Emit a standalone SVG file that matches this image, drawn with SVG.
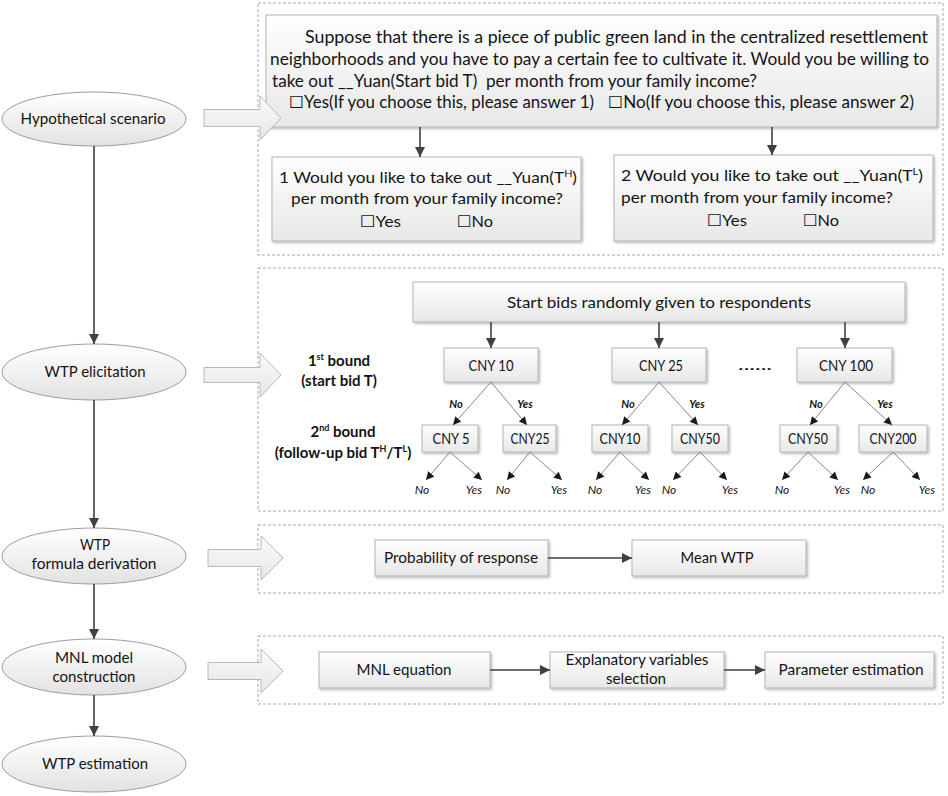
<svg xmlns="http://www.w3.org/2000/svg" width="948" height="796" viewBox="0 0 948 796">
<style>
.t{font-family:Lato,"Liberation Sans","DejaVu Sans",sans-serif;fill:#141414;}
.q{font-size:16.5px;}
.a{font-size:16px;}
.e{font-size:15px;text-anchor:middle;}
.c{font-size:15px;text-anchor:middle;}
.b{font-size:15px;font-weight:bold;text-anchor:middle;}
.lb{font-size:11px;font-weight:bold;font-style:italic;text-anchor:middle;}
.lf{font-size:12px;font-style:italic;text-anchor:middle;}
.box{fill:url(#gb);stroke:#b3b3b3;stroke-width:1;filter:url(#sh);}
.ell{fill:url(#ge);stroke:#9c9c9c;stroke-width:1;}
.dash{fill:none;stroke:#a8a8a8;stroke-width:1;stroke-dasharray:3 2;}
.blk{fill:url(#ga);stroke:#b8b8b8;stroke-width:1;}
.main{stroke:#404040;stroke-width:1.6;fill:none;marker-end:url(#ah);}
.tree{stroke:#8a8a8a;stroke-width:1;fill:none;marker-end:url(#as);}
</style>
<defs>
<linearGradient id="gb" x1="0" y1="0" x2="0" y2="1"><stop offset="0" stop-color="#fefefe"/><stop offset="1" stop-color="#e8e8e8"/></linearGradient>
<linearGradient id="ge" x1="0" y1="0" x2="0" y2="1"><stop offset="0" stop-color="#ffffff"/><stop offset="1" stop-color="#e2e2e2"/></linearGradient>
<linearGradient id="ga" x1="0" y1="0" x2="0" y2="1"><stop offset="0" stop-color="#fbfbfb"/><stop offset="1" stop-color="#e6e6e6"/></linearGradient>
<filter id="sh" x="-5%" y="-10%" width="115%" height="140%"><feDropShadow dx="1.5" dy="1.5" stdDeviation="1" flood-color="#000" flood-opacity="0.28"/></filter>
<marker id="ah" viewBox="0 0 10 10" refX="10" refY="5" markerWidth="11" markerHeight="10" markerUnits="userSpaceOnUse" orient="auto"><path d="M0,0 L10,5 L0,10 z" fill="#404040"/></marker>
<marker id="as" viewBox="0 0 10 10" refX="10" refY="5" markerWidth="9" markerHeight="8" markerUnits="userSpaceOnUse" orient="auto"><path d="M0,0 L10,5 L0,10 z" fill="#1a1a1a"/></marker>
</defs>
<rect width="948" height="796" fill="#ffffff"/>

<!-- dashed panels -->
<g id="panels">
<rect class="dash" x="258" y="3" width="685" height="252"/>
<rect class="dash" x="258" y="268" width="685" height="243"/>
<rect class="dash" x="258" y="525" width="685" height="68"/>
<rect class="dash" x="258" y="636" width="685" height="68"/>
</g>

<!-- left flow nodes -->
<g id="n-hypothetical"><ellipse class="ell" cx="94" cy="119" rx="92" ry="27"/><text class="t e" x="93" y="124" textLength="145" lengthAdjust="spacingAndGlyphs">Hypothetical scenario</text></g>
<g id="n-elicitation"><ellipse class="ell" cx="94" cy="372" rx="92" ry="28"/><text class="t e" x="95" y="377" textLength="101" lengthAdjust="spacingAndGlyphs">WTP elicitation</text></g>
<g id="n-formula"><ellipse class="ell" cx="94" cy="556" rx="92" ry="28"/><text class="t e" x="95" y="550" textLength="30" lengthAdjust="spacingAndGlyphs">WTP</text><text class="t e" x="94" y="569" textLength="125" lengthAdjust="spacingAndGlyphs">formula derivation</text></g>
<g id="n-mnl"><ellipse class="ell" cx="94" cy="667" rx="92" ry="28"/><text class="t e" x="94" y="663" textLength="78" lengthAdjust="spacingAndGlyphs">MNL model</text><text class="t e" x="94" y="682" textLength="83" lengthAdjust="spacingAndGlyphs">construction</text></g>
<g id="n-estimation"><ellipse class="ell" cx="94" cy="764" rx="92" ry="28"/><text class="t e" x="95" y="769" textLength="106" lengthAdjust="spacingAndGlyphs">WTP estimation</text></g>

<!-- scenario panel -->
<g id="n-question"><rect class="box" x="266" y="15" width="671" height="112"/>
<text class="t q" x="305" y="42.5" textLength="623" lengthAdjust="spacingAndGlyphs">Suppose that there is a piece of public green land in the centralized resettlement</text>
<text class="t q" x="270" y="64.5" textLength="659" lengthAdjust="spacingAndGlyphs">neighborhoods and you have to pay a certain fee to cultivate it. Would you be willing to</text>
<text class="t q" x="272" y="86.5" textLength="485" lengthAdjust="spacingAndGlyphs" xml:space="preserve">take out __Yuan(Start bid T)  per month from your family income?</text>
<text class="t q" x="289" y="107.5" textLength="305" lengthAdjust="spacingAndGlyphs">☐Yes(If you choose this, please answer 1)</text>
<text class="t q" x="608" y="107.5" textLength="306" lengthAdjust="spacingAndGlyphs">☐No(If you choose this, please answer 2)</text>
</g>
<g id="n-answer1"><rect class="box" x="272" y="157" width="309" height="84"/>
<text class="t a" x="279" y="182.5" textLength="298" lengthAdjust="spacingAndGlyphs">1 Would you like to take out __Yuan(T<tspan font-size="10" dy="-6">H</tspan><tspan dy="6">)</tspan></text>
<text class="t a" x="291" y="203.5" textLength="272" lengthAdjust="spacingAndGlyphs">per month from your family income?</text>
<text class="t a" x="360" y="226.5" textLength="41" lengthAdjust="spacingAndGlyphs">☐Yes</text>
<text class="t a" x="457" y="226.5" textLength="36" lengthAdjust="spacingAndGlyphs">☐No</text>
</g>
<g id="n-answer2"><rect class="box" x="614" y="155" width="319" height="86"/>
<text class="t a" x="621" y="180.5" textLength="302" lengthAdjust="spacingAndGlyphs">2 Would you like to take out __Yuan(T<tspan font-size="10" dy="-6">L</tspan><tspan dy="6">)</tspan></text>
<text class="t a" x="621" y="202.5" textLength="272" lengthAdjust="spacingAndGlyphs">per month from your family income?</text>
<text class="t a" x="707" y="225.5" textLength="40" lengthAdjust="spacingAndGlyphs">☐Yes</text>
<text class="t a" x="803" y="225.5" textLength="36" lengthAdjust="spacingAndGlyphs">☐No</text>
</g>

<!-- elicitation panel -->
<g id="lbl-bounds">
<text class="t b" x="339" y="366">1<tspan font-size="9" dy="-6">st</tspan><tspan dy="6"> bound</tspan></text>
<text class="t b" x="339" y="386">(start bid T)</text>
<text class="t b" x="343" y="437">2<tspan font-size="9" dy="-6">nd</tspan><tspan dy="6"> bound</tspan></text>
<text class="t b" x="343" y="458">(follow-up bid T<tspan font-size="9" dy="-6">H</tspan><tspan dy="6">/T</tspan><tspan font-size="9" dy="-6">L</tspan><tspan dy="6">)</tspan></text>
</g>
<g id="n-start"><rect class="box" x="413" y="282" width="492" height="40"/><text class="t c" x="659" y="308" font-size="16.5" textLength="304" lengthAdjust="spacingAndGlyphs">Start bids randomly given to respondents</text></g>
<g id="n-cny10"><rect class="box" x="444" y="348" width="94" height="34"/><text class="t c" x="491" y="371" textLength="45" lengthAdjust="spacingAndGlyphs">CNY 10</text></g>
<g id="n-cny25"><rect class="box" x="612" y="348" width="94" height="34"/><text class="t c" x="661" y="371" textLength="44" lengthAdjust="spacingAndGlyphs">CNY 25</text></g>
<g id="dots"><text class="t c" x="755" y="370" font-size="16" textLength="34" lengthAdjust="spacingAndGlyphs">......</text></g>
<g id="n-cny100"><rect class="box" x="797" y="348" width="95" height="34"/><text class="t c" x="846" y="371" textLength="54" lengthAdjust="spacingAndGlyphs">CNY 100</text></g>
<g id="n-cny5"><rect class="box" x="422" y="425" width="56" height="27"/><text class="t c" x="451" y="443.5" textLength="37" lengthAdjust="spacingAndGlyphs">CNY 5</text></g>
<g id="n-cny25b"><rect class="box" x="503" y="425" width="53" height="27"/><text class="t c" x="530" y="443.5" textLength="39" lengthAdjust="spacingAndGlyphs">CNY25</text></g>
<g id="n-cny10b"><rect class="box" x="592" y="425" width="56" height="27"/><text class="t c" x="620" y="443.5" textLength="41" lengthAdjust="spacingAndGlyphs">CNY10</text></g>
<g id="n-cny50a"><rect class="box" x="672" y="425" width="56" height="27"/><text class="t c" x="700" y="443.5" textLength="40" lengthAdjust="spacingAndGlyphs">CNY50</text></g>
<g id="n-cny50b"><rect class="box" x="780" y="425" width="57" height="27"/><text class="t c" x="808" y="443.5" textLength="40" lengthAdjust="spacingAndGlyphs">CNY50</text></g>
<g id="n-cny200"><rect class="box" x="859" y="425" width="68" height="27"/><text class="t c" x="893" y="443.5" textLength="47" lengthAdjust="spacingAndGlyphs">CNY200</text></g>

<g id="tree-labels">
<text class="t lb" x="456" y="408">No</text><text class="t lb" x="525" y="408">Yes</text>
<text class="t lb" x="628" y="408">No</text><text class="t lb" x="697" y="408">Yes</text>
<text class="t lb" x="816" y="408">No</text><text class="t lb" x="885" y="408">Yes</text>
<text class="t lf" x="422" y="494">No</text><text class="t lf" x="474" y="494">Yes</text>
<text class="t lf" x="503" y="494">No</text><text class="t lf" x="559" y="494">Yes</text>
<text class="t lf" x="595" y="494">No</text><text class="t lf" x="643" y="494">Yes</text>
<text class="t lf" x="669" y="494">No</text><text class="t lf" x="730" y="494">Yes</text>
<text class="t lf" x="782" y="494">No</text><text class="t lf" x="842" y="494">Yes</text>
<text class="t lf" x="868" y="494">No</text><text class="t lf" x="927" y="494">Yes</text>
</g>

<!-- formula panel -->
<g id="n-prob"><rect class="box" x="375" y="540" width="173" height="36"/><text class="t c" x="461" y="563" textLength="154" lengthAdjust="spacingAndGlyphs">Probability of response</text></g>
<g id="n-mean"><rect class="box" x="632" y="540" width="174" height="36"/><text class="t c" x="717" y="563" textLength="73" lengthAdjust="spacingAndGlyphs">Mean WTP</text></g>

<!-- MNL panel -->
<g id="n-mnleq"><rect class="box" x="319" y="652" width="171" height="36"/><text class="t c" x="404" y="675" textLength="95" lengthAdjust="spacingAndGlyphs">MNL equation</text></g>
<g id="n-expl"><rect class="box" x="550" y="652" width="174" height="36"/><text class="t c" x="637" y="665" textLength="143" lengthAdjust="spacingAndGlyphs">Explanatory variables</text><text class="t c" x="636" y="684" textLength="60" lengthAdjust="spacingAndGlyphs">selection</text></g>
<g id="n-param"><rect class="box" x="765" y="652" width="169" height="36"/><text class="t c" x="851" y="675" textLength="145" lengthAdjust="spacingAndGlyphs">Parameter estimation</text></g>

<!-- connectors -->
<g id="connectors">
<g id="block-arrows">
<polygon class="blk" points="204,109.5 260,109.5 260,96 281,118 260,140 260,126.5 204,126.5"/>
<polygon class="blk" points="204,367.5 260,367.5 260,353 281,375 260,397 260,382.5 204,382.5"/>
<polygon class="blk" points="208,549.5 261,549.5 261,536 283,558 261,580 261,566.5 208,566.5"/>
<polygon class="blk" points="208,662.5 261,662.5 261,649 283,671 261,693 261,679.5 208,679.5"/>
</g>
<line class="main" x1="94" y1="146" x2="94" y2="344"/>
<line class="main" x1="94" y1="400" x2="94" y2="528"/>
<line class="main" x1="94" y1="584" x2="94" y2="639"/>
<line class="main" x1="94" y1="695" x2="94" y2="736"/>
<line class="main" x1="420" y1="127" x2="420" y2="157"/>
<line class="main" x1="772" y1="127" x2="772" y2="155"/>
<line class="main" x1="491" y1="322" x2="491" y2="348"/>
<line class="main" x1="659" y1="322" x2="659" y2="348"/>
<line class="main" x1="845" y1="322" x2="845" y2="348"/>
<line class="main" x1="548" y1="558" x2="632" y2="558"/>
<line class="main" x1="490" y1="670" x2="550" y2="670"/>
<line class="main" x1="724" y1="670" x2="765" y2="670"/>
<line class="tree" x1="491" y1="382" x2="453" y2="425"/>
<line class="tree" x1="491" y1="382" x2="527" y2="425"/>
<line class="tree" x1="659" y1="382" x2="622" y2="425"/>
<line class="tree" x1="659" y1="382" x2="698" y2="425"/>
<line class="tree" x1="845" y1="382" x2="810" y2="425"/>
<line class="tree" x1="845" y1="382" x2="892" y2="425"/>
<line class="tree" x1="450" y1="452" x2="426" y2="480"/>
<line class="tree" x1="450" y1="452" x2="482" y2="480"/>
<line class="tree" x1="530" y1="452" x2="507" y2="480"/>
<line class="tree" x1="530" y1="452" x2="562" y2="480"/>
<line class="tree" x1="620" y1="452" x2="596" y2="480"/>
<line class="tree" x1="620" y1="452" x2="649" y2="480"/>
<line class="tree" x1="700" y1="452" x2="673" y2="480"/>
<line class="tree" x1="700" y1="452" x2="727" y2="480"/>
<line class="tree" x1="808" y1="452" x2="782" y2="480"/>
<line class="tree" x1="808" y1="452" x2="838" y2="480"/>
<line class="tree" x1="893" y1="452" x2="863" y2="480"/>
<line class="tree" x1="893" y1="452" x2="920" y2="480"/>
</g>
</svg>
